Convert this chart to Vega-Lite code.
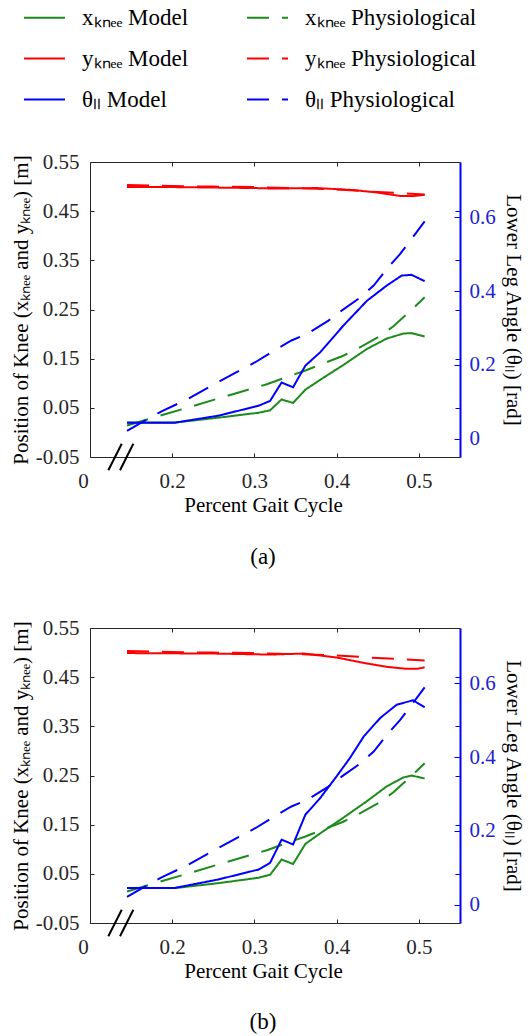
{
  "$schema": "https://vega.github.io/schema/vega-lite/v6.json",
  "padding": {"left": 10, "top": -4, "right": 8, "bottom": 0},
  "bounds": "flush",
  "spacing": 171,
  "config": {
    "font": "Liberation Serif",
    "view": {"stroke": null},
    "axis": {"grid": false, "labelFont": "Liberation Serif", "titleFont": "Liberation Serif", "labelFontSize": 21, "titleFontSize": 21, "titleFontWeight": "normal", "domainColor": "#262626", "tickColor": "#262626", "labelColor": "#262626", "titleColor": "#000000", "labelOverlap": false, "labelFlush": false},
    "legend": {"orient": "none", "legendX": -67, "legendY": -166, "columns": 2, "columnPadding": 54, "rowPadding": 7, "symbolType": "stroke", "symbolSize": 1681, "symbolStrokeWidth": 2, "labelFont": "Liberation Serif", "labelFontSize": 23, "labelColor": "#000000", "labelOffset": 16, "padding": 0, "labelLimit": 400, "titleFontSize": 0, "titlePadding": 0}
  },
  "datasets": {
    "lines": [
      {"p": "both", "s": "xP", "x": 0.145, "y": 0.014}, {"p": "both", "s": "xP", "x": 0.191, "y": 0.037}, {"p": "both", "s": "xP", "x": 0.216, "y": 0.049}, {"p": "both", "s": "xP", "x": 0.264, "y": 0.073}, {"p": "both", "s": "xP", "x": 0.315, "y": 0.098}, {"p": "both", "s": "xP", "x": 0.335, "y": 0.110}, {"p": "both", "s": "xP", "x": 0.362, "y": 0.126}, {"p": "both", "s": "xP", "x": 0.382, "y": 0.139}, {"p": "both", "s": "xP", "x": 0.408, "y": 0.156}, {"p": "both", "s": "xP", "x": 0.426, "y": 0.171}, {"p": "both", "s": "xP", "x": 0.453, "y": 0.196}, {"p": "both", "s": "xP", "x": 0.469, "y": 0.216}, {"p": "both", "s": "xP", "x": 0.491, "y": 0.249}, {"p": "both", "s": "xP", "x": 0.507, "y": 0.275},
      {"p": "both", "s": "yP", "x": 0.145, "y": 0.503}, {"p": "both", "s": "yP", "x": 0.2, "y": 0.501}, {"p": "both", "s": "yP", "x": 0.25, "y": 0.500}, {"p": "both", "s": "yP", "x": 0.3, "y": 0.499}, {"p": "both", "s": "yP", "x": 0.35, "y": 0.497}, {"p": "both", "s": "yP", "x": 0.4, "y": 0.494}, {"p": "both", "s": "yP", "x": 0.45, "y": 0.489}, {"p": "both", "s": "yP", "x": 0.507, "y": 0.484},
      {"p": "both", "s": "tP", "x": 0.145, "y": 0.021}, {"p": "both", "s": "tP", "x": 0.187, "y": 0.074}, {"p": "both", "s": "tP", "x": 0.216, "y": 0.104}, {"p": "both", "s": "tP", "x": 0.258, "y": 0.156}, {"p": "both", "s": "tP", "x": 0.301, "y": 0.207}, {"p": "both", "s": "tP", "x": 0.325, "y": 0.240}, {"p": "both", "s": "tP", "x": 0.345, "y": 0.266}, {"p": "both", "s": "tP", "x": 0.364, "y": 0.284}, {"p": "both", "s": "tP", "x": 0.390, "y": 0.320}, {"p": "both", "s": "tP", "x": 0.406, "y": 0.347}, {"p": "both", "s": "tP", "x": 0.429, "y": 0.383}, {"p": "both", "s": "tP", "x": 0.445, "y": 0.415}, {"p": "both", "s": "tP", "x": 0.463, "y": 0.465}, {"p": "both", "s": "tP", "x": 0.477, "y": 0.500}, {"p": "both", "s": "tP", "x": 0.495, "y": 0.553}, {"p": "both", "s": "tP", "x": 0.507, "y": 0.589},
      {"p": "a", "s": "xM", "x": 0.145, "y": 0.020}, {"p": "a", "s": "xM", "x": 0.203, "y": 0.020}, {"p": "a", "s": "xM", "x": 0.256, "y": 0.030}, {"p": "a", "s": "xM", "x": 0.305, "y": 0.040}, {"p": "a", "s": "xM", "x": 0.319, "y": 0.045}, {"p": "a", "s": "xM", "x": 0.333, "y": 0.067}, {"p": "a", "s": "xM", "x": 0.347, "y": 0.060}, {"p": "a", "s": "xM", "x": 0.362, "y": 0.087}, {"p": "a", "s": "xM", "x": 0.380, "y": 0.107}, {"p": "a", "s": "xM", "x": 0.408, "y": 0.137}, {"p": "a", "s": "xM", "x": 0.437, "y": 0.170}, {"p": "a", "s": "xM", "x": 0.461, "y": 0.191}, {"p": "a", "s": "xM", "x": 0.481, "y": 0.201}, {"p": "a", "s": "xM", "x": 0.491, "y": 0.202}, {"p": "a", "s": "xM", "x": 0.507, "y": 0.195},
      {"p": "a", "s": "yM", "x": 0.145, "y": 0.499}, {"p": "a", "s": "yM", "x": 0.2, "y": 0.499}, {"p": "a", "s": "yM", "x": 0.25, "y": 0.498}, {"p": "a", "s": "yM", "x": 0.3, "y": 0.497}, {"p": "a", "s": "yM", "x": 0.325, "y": 0.496}, {"p": "a", "s": "yM", "x": 0.376, "y": 0.497}, {"p": "a", "s": "yM", "x": 0.42, "y": 0.493}, {"p": "a", "s": "yM", "x": 0.449, "y": 0.488}, {"p": "a", "s": "yM", "x": 0.477, "y": 0.481}, {"p": "a", "s": "yM", "x": 0.493, "y": 0.481}, {"p": "a", "s": "yM", "x": 0.507, "y": 0.483},
      {"p": "a", "s": "tM", "x": 0.145, "y": 0.043}, {"p": "a", "s": "tM", "x": 0.203, "y": 0.043}, {"p": "a", "s": "tM", "x": 0.256, "y": 0.062}, {"p": "a", "s": "tM", "x": 0.305, "y": 0.089}, {"p": "a", "s": "tM", "x": 0.319, "y": 0.102}, {"p": "a", "s": "tM", "x": 0.333, "y": 0.152}, {"p": "a", "s": "tM", "x": 0.347, "y": 0.139}, {"p": "a", "s": "tM", "x": 0.362, "y": 0.198}, {"p": "a", "s": "tM", "x": 0.380, "y": 0.234}, {"p": "a", "s": "tM", "x": 0.408, "y": 0.306}, {"p": "a", "s": "tM", "x": 0.437, "y": 0.374}, {"p": "a", "s": "tM", "x": 0.461, "y": 0.415}, {"p": "a", "s": "tM", "x": 0.479, "y": 0.442}, {"p": "a", "s": "tM", "x": 0.491, "y": 0.444}, {"p": "a", "s": "tM", "x": 0.507, "y": 0.427},
      {"p": "b", "s": "xM", "x": 0.145, "y": 0.021}, {"p": "b", "s": "xM", "x": 0.203, "y": 0.021}, {"p": "b", "s": "xM", "x": 0.256, "y": 0.031}, {"p": "b", "s": "xM", "x": 0.305, "y": 0.042}, {"p": "b", "s": "xM", "x": 0.319, "y": 0.048}, {"p": "b", "s": "xM", "x": 0.333, "y": 0.079}, {"p": "b", "s": "xM", "x": 0.347, "y": 0.070}, {"p": "b", "s": "xM", "x": 0.362, "y": 0.111}, {"p": "b", "s": "xM", "x": 0.384, "y": 0.137}, {"p": "b", "s": "xM", "x": 0.408, "y": 0.164}, {"p": "b", "s": "xM", "x": 0.437, "y": 0.198}, {"p": "b", "s": "xM", "x": 0.461, "y": 0.228}, {"p": "b", "s": "xM", "x": 0.481, "y": 0.246}, {"p": "b", "s": "xM", "x": 0.491, "y": 0.250}, {"p": "b", "s": "xM", "x": 0.507, "y": 0.244},
      {"p": "b", "s": "yM", "x": 0.145, "y": 0.499}, {"p": "b", "s": "yM", "x": 0.25, "y": 0.498}, {"p": "b", "s": "yM", "x": 0.319, "y": 0.496}, {"p": "b", "s": "yM", "x": 0.360, "y": 0.498}, {"p": "b", "s": "yM", "x": 0.400, "y": 0.490}, {"p": "b", "s": "yM", "x": 0.433, "y": 0.479}, {"p": "b", "s": "yM", "x": 0.461, "y": 0.471}, {"p": "b", "s": "yM", "x": 0.485, "y": 0.467}, {"p": "b", "s": "yM", "x": 0.498, "y": 0.467}, {"p": "b", "s": "yM", "x": 0.507, "y": 0.470},
      {"p": "b", "s": "tM", "x": 0.145, "y": 0.045}, {"p": "b", "s": "tM", "x": 0.203, "y": 0.045}, {"p": "b", "s": "tM", "x": 0.256, "y": 0.068}, {"p": "b", "s": "tM", "x": 0.305, "y": 0.095}, {"p": "b", "s": "tM", "x": 0.319, "y": 0.113}, {"p": "b", "s": "tM", "x": 0.333, "y": 0.176}, {"p": "b", "s": "tM", "x": 0.347, "y": 0.163}, {"p": "b", "s": "tM", "x": 0.362, "y": 0.244}, {"p": "b", "s": "tM", "x": 0.380, "y": 0.289}, {"p": "b", "s": "tM", "x": 0.400, "y": 0.348}, {"p": "b", "s": "tM", "x": 0.416, "y": 0.397}, {"p": "b", "s": "tM", "x": 0.433, "y": 0.456}, {"p": "b", "s": "tM", "x": 0.453, "y": 0.506}, {"p": "b", "s": "tM", "x": 0.473, "y": 0.542}, {"p": "b", "s": "tM", "x": 0.493, "y": 0.554}, {"p": "b", "s": "tM", "x": 0.507, "y": 0.535}
    ],
    "brk": [
      {"x": 0.1223, "y": -0.077, "x2": 0.1386, "y2": -0.023},
      {"x": 0.1365, "y": -0.077, "x2": 0.1527, "y2": -0.023}
    ]
  },
  "vconcat": [
    {
      "width": 370, "height": 295,
      "title": {"text": "(a)", "orient": "bottom", "anchor": "middle", "frame": "group", "dx": -12, "offset": 31, "fontSize": 23, "fontWeight": "normal", "font": "Liberation Serif", "color": "#000000"},
      "layer": [
        {"layer": [
          {"data": {"name": "lines"},
           "transform": [{"filter": "(datum.p == 'a' || datum.p == 'both') && datum.s != 'tM' && datum.s != 'tP'"}],
           "mark": {"type": "line", "strokeWidth": 2},
           "encoding": {
             "x": {"field": "x", "type": "quantitative", "scale": {"domain": [0.1, 0.55], "nice": false, "zero": false},
                   "axis": {"orient": "bottom", "values": [0.1, 0.2, 0.3, 0.4, 0.5], "labelExpr": "datum.value < 0.15 ? '0' : format(datum.value, '.1f')", "tickSize": -4, "labelPadding": 34, "labelBaseline": "alphabetic", "labelOffset": {"condition": {"test": "datum.value < 0.15", "value": -7}, "value": 0}, "title": "Percent Gait Cycle", "titleX": 173, "titleY": 54, "titleBaseline": "alphabetic"}},
             "y": {"field": "y", "type": "quantitative", "scale": {"domain": [-0.05, 0.55], "nice": false, "zero": false},
                   "axis": {"orient": "left", "values": [-0.05, 0.05, 0.15, 0.25, 0.35, 0.45, 0.55], "labelExpr": "datum.value < 0 ? '-0.05' : format(datum.value, '.2f')", "tickSize": -4, "labelPadding": 15, "labelBaseline": "middle", "title": "Position of Knee (xₖₙₑₑ and yₖₙₑₑ) [m]", "titleX": -69, "titleBaseline": "middle"}},
             "color": {"field": "s", "type": "nominal", "scale": {"domain": ["xM", "yM", "tM", "xP", "yP", "tP"], "range": ["#1b8c1b", "#ff0000", "#0000ff", "#1b8c1b", "#ff0000", "#0000ff"]},
                       "legend": {"title": null, "labelExpr": "datum.value == 'xM' ? 'xₖₙₑₑ Model' : datum.value == 'xP' ? 'xₖₙₑₑ Physiological' : datum.value == 'yM' ? 'yₖₙₑₑ Model' : datum.value == 'yP' ? 'yₖₙₑₑ Physiological' : datum.value == 'tM' ? 'θₗₗ Model' : 'θₗₗ Physiological'",
                                  "encode": {"symbols": {"update": {"strokeDash": {"signal": "(datum.value == 'xP' || datum.value == 'yP' || datum.value == 'tP') ? [14, 6] : [1, 0]"}}}}}},
             "strokeDash": {"field": "s", "type": "nominal", "scale": {"domain": ["xM", "yM", "tM", "xP", "yP", "tP"], "range": [[1, 0], [1, 0], [1, 0], [22, 13], [22, 13], [22, 13]]},
                       "legend": {"title": null, "labelExpr": "datum.value == 'xM' ? 'xₖₙₑₑ Model' : datum.value == 'xP' ? 'xₖₙₑₑ Physiological' : datum.value == 'yM' ? 'yₖₙₑₑ Model' : datum.value == 'yP' ? 'yₖₙₑₑ Physiological' : datum.value == 'tM' ? 'θₗₗ Model' : 'θₗₗ Physiological'",
                                  "encode": {"symbols": {"update": {"strokeDash": {"signal": "(datum.value == 'xP' || datum.value == 'yP' || datum.value == 'tP') ? [14, 6] : [1, 0]"}}}}}}
           }},
          {"data": {"name": "brk"},
           "mark": {"type": "rule", "strokeWidth": 2, "color": "#000000"},
           "encoding": {
             "x": {"field": "x", "type": "quantitative", "axis": {"orient": "top", "values": [0.2, 0.3, 0.4, 0.5], "labels": false, "tickSize": -4, "title": null}},
             "x2": {"field": "x2"},
             "y": {"field": "y", "type": "quantitative", "axis": {"orient": "right", "values": [0.05, 0.15, 0.25, 0.35, 0.45], "labels": false, "domain": false, "tickSize": -5, "tickColor": "#0000ff", "title": null}},
             "y2": {"field": "y2"}
           }}
        ]},
        {"data": {"name": "lines"},
         "transform": [{"filter": "(datum.p == 'a' || datum.p == 'both') && (datum.s == 'tM' || datum.s == 'tP')"}],
         "mark": {"type": "line", "strokeWidth": 2},
         "encoding": {
           "x": {"field": "x", "type": "quantitative", "axis": null},
           "y": {"field": "y", "type": "quantitative", "scale": {"domain": [-0.05, 0.75], "nice": false, "zero": false},
                 "axis": {"orient": "right", "values": [0, 0.2, 0.4, 0.6], "labelExpr": "datum.value == 0 ? '0' : format(datum.value, '.1f')", "tickSize": -6, "labelPadding": 15, "labelBaseline": "middle", "labelColor": "#2222d4", "tickColor": "#0000ff", "domainColor": "#0000ff", "domainWidth": 2, "title": "Lower Leg Angle (θₗₗ) [rad]", "titleX": 52, "titleBaseline": "middle"}},
           "color": {"field": "s", "type": "nominal", "scale": {"domain": ["xM", "yM", "tM", "xP", "yP", "tP"], "range": ["#1b8c1b", "#ff0000", "#0000ff", "#1b8c1b", "#ff0000", "#0000ff"]}},
           "strokeDash": {"field": "s", "type": "nominal", "scale": {"domain": ["xM", "yM", "tM", "xP", "yP", "tP"], "range": [[1, 0], [1, 0], [1, 0], [22, 13], [22, 13], [22, 13]]}}
         }}
      ],
      "resolve": {"scale": {"y": "independent"}}
    },
    {
      "width": 370, "height": 295,
      "title": {"text": "(b)", "orient": "bottom", "anchor": "middle", "frame": "group", "dx": -12, "offset": 30, "fontSize": 23, "fontWeight": "normal", "font": "Liberation Serif", "color": "#000000"},
      "layer": [
        {"layer": [
          {"data": {"name": "lines"},
           "transform": [{"filter": "(datum.p == 'b' || datum.p == 'both') && datum.s != 'tM' && datum.s != 'tP'"}],
           "mark": {"type": "line", "strokeWidth": 2},
           "encoding": {
             "x": {"field": "x", "type": "quantitative", "scale": {"domain": [0.1, 0.55], "nice": false, "zero": false},
                   "axis": {"orient": "bottom", "values": [0.1, 0.2, 0.3, 0.4, 0.5], "labelExpr": "datum.value < 0.15 ? '0' : format(datum.value, '.1f')", "tickSize": -4, "labelPadding": 34, "labelBaseline": "alphabetic", "labelOffset": {"condition": {"test": "datum.value < 0.15", "value": -7}, "value": 0}, "title": "Percent Gait Cycle", "titleX": 173, "titleY": 54, "titleBaseline": "alphabetic"}},
             "y": {"field": "y", "type": "quantitative", "scale": {"domain": [-0.05, 0.55], "nice": false, "zero": false},
                   "axis": {"orient": "left", "values": [-0.05, 0.05, 0.15, 0.25, 0.35, 0.45, 0.55], "labelExpr": "datum.value < 0 ? '-0.05' : format(datum.value, '.2f')", "tickSize": -4, "labelPadding": 15, "labelBaseline": "middle", "title": "Position of Knee (xₖₙₑₑ and yₖₙₑₑ) [m]", "titleX": -69, "titleBaseline": "middle"}},
             "color": {"field": "s", "type": "nominal", "scale": {"domain": ["xM", "yM", "tM", "xP", "yP", "tP"], "range": ["#1b8c1b", "#ff0000", "#0000ff", "#1b8c1b", "#ff0000", "#0000ff"]}},
             "strokeDash": {"field": "s", "type": "nominal", "scale": {"domain": ["xM", "yM", "tM", "xP", "yP", "tP"], "range": [[1, 0], [1, 0], [1, 0], [22, 13], [22, 13], [22, 13]]}}
           }},
          {"data": {"name": "brk"},
           "mark": {"type": "rule", "strokeWidth": 2, "color": "#000000"},
           "encoding": {
             "x": {"field": "x", "type": "quantitative", "axis": {"orient": "top", "values": [0.2, 0.3, 0.4, 0.5], "labels": false, "tickSize": -4, "title": null}},
             "x2": {"field": "x2"},
             "y": {"field": "y", "type": "quantitative", "axis": {"orient": "right", "values": [0.05, 0.15, 0.25, 0.35, 0.45], "labels": false, "domain": false, "tickSize": -5, "tickColor": "#0000ff", "title": null}},
             "y2": {"field": "y2"}
           }}
        ]},
        {"data": {"name": "lines"},
         "transform": [{"filter": "(datum.p == 'b' || datum.p == 'both') && (datum.s == 'tM' || datum.s == 'tP')"}],
         "mark": {"type": "line", "strokeWidth": 2},
         "encoding": {
           "x": {"field": "x", "type": "quantitative", "axis": null},
           "y": {"field": "y", "type": "quantitative", "scale": {"domain": [-0.05, 0.75], "nice": false, "zero": false},
                 "axis": {"orient": "right", "values": [0, 0.2, 0.4, 0.6], "labelExpr": "datum.value == 0 ? '0' : format(datum.value, '.1f')", "tickSize": -6, "labelPadding": 15, "labelBaseline": "middle", "labelColor": "#2222d4", "tickColor": "#0000ff", "domainColor": "#0000ff", "domainWidth": 2, "title": "Lower Leg Angle (θₗₗ) [rad]", "titleX": 52, "titleBaseline": "middle"}},
           "color": {"field": "s", "type": "nominal", "scale": {"domain": ["xM", "yM", "tM", "xP", "yP", "tP"], "range": ["#1b8c1b", "#ff0000", "#0000ff", "#1b8c1b", "#ff0000", "#0000ff"]}},
           "strokeDash": {"field": "s", "type": "nominal", "scale": {"domain": ["xM", "yM", "tM", "xP", "yP", "tP"], "range": [[1, 0], [1, 0], [1, 0], [22, 13], [22, 13], [22, 13]]}}
         }}
      ],
      "resolve": {"scale": {"y": "independent"}}
    }
  ]
}
